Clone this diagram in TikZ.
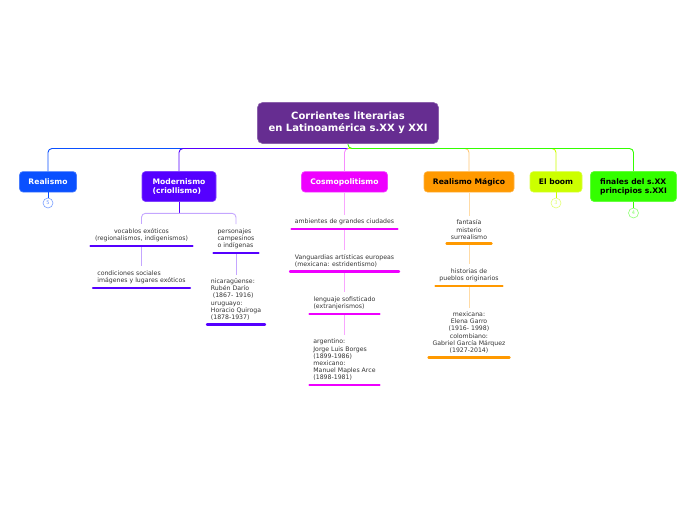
\documentclass[tikz,border=0pt]{standalone}
\usepackage{fontspec}
\setmainfont{DejaVu Sans}
\definecolor{titlecol}{HTML}{662D91}
\definecolor{bluecol}{HTML}{0A50FF}
\definecolor{violetcol}{HTML}{5500FF}
\definecolor{magentacol}{HTML}{EE00FF}
\definecolor{orangecol}{HTML}{FF9900}
\definecolor{limecol}{HTML}{CCFF00}
\definecolor{greencol}{HTML}{33FF00}
\tikzset{
  topic/.style={draw=#1!75!white,fill=#1,rounded corners=3.5pt,line width=0.6pt,inner sep=0pt,
    font=\fontsize{7.6}{9}\selectfont\bfseries},
  twolines/.style={align=left},
  oneline/.style={text height=5.8pt,text depth=0pt},
  leaf/.style={anchor=south,inner xsep=0pt,inner ysep=4pt,text=black!80,
    font=\fontsize{6.2}{7.2}\selectfont},
  badge/.style={circle,draw=#1!55!white,fill=white,text=#1!60!white,line width=0.6pt,
    minimum size=10pt,inner sep=0pt,font=\fontsize{5}{5}\selectfont},
  branch/.style={line width=0.9pt,rounded corners=4pt,#1},
  twig/.style={line width=1pt,#1!35!white},
  under/.style={line width=2.4pt,line cap=round,shorten <=1.2pt,shorten >=1.2pt,#1}
}
\begin{document}
\begin{tikzpicture}[x=1pt,y=-1pt]
  \useasboundingbox (0,0) rectangle (696,520);
  % temas
  \node[topic=titlecol,text=white,align=center,minimum width=181pt,minimum height=41pt,rounded corners=5pt,
    font=\fontsize{10}{12}\selectfont\bfseries] (title) at (348,123) {Corrientes literarias\\en Latinoamérica s.XX y XXI};
  \node[topic=bluecol,text=white,oneline,minimum width=57pt,minimum height=20.5pt] (realismo) at (48,181.8) {Realismo};
  \node[topic=violetcol,text=white,twolines,minimum width=74pt,minimum height=30pt] (modernismo) at (179,186.5) {Modernismo\\(criollismo)};
  \node[topic=magentacol,text=white,oneline,minimum width=86pt,minimum height=20.5pt] (cosmo) at (344.5,181.8) {Cosmopolitismo};
  \node[topic=orangecol,text=black,oneline,minimum width=90pt,minimum height=20.5pt] (magico) at (469,181.8) {Realismo Mágico};
  \node[topic=limecol,text=black,oneline,minimum width=52pt,minimum height=20.5pt] (boom) at (556,181.8) {El boom};
  \node[topic=greencol,text=black,twolines,minimum width=86pt,minimum height=30pt] (finales) at (633.5,186.5) {finales del s.XX\\principios s.XXI};
  \coordinate (bus) at (348,148.5);
  % contadores
  \node[badge=bluecol] (nrealismo) at (48,203) {5};
  \node[badge=limecol] (nboom) at (556,203) {3};
  \node[badge=greencol] (nfinales) at (633.5,213) {4};
  % modernismo
  \node[leaf,minimum width=104pt,align=center] (vocablos) at (141.5,245.7) {vocablos exóticos\\(regionalismos, indigenismos)};
  \node[leaf,minimum width=99pt,align=left] (condiciones) at (141.5,288) {condiciones sociales\\imágenes y lugares exóticos};
  \node[leaf,minimum width=47pt,align=left] (personajes) at (236,253) {personajes\\campesinos\\o indígenas};
  \node[leaf,minimum width=60pt,align=left] (nicaragua) at (236,324.5) {nicaragüense:\\Rubén Darío\\ \ (1867- 1916)\\uruguayo:\\Horacio Quiroga\\(1878-1937)};
  % cosmopolitismo
  \node[leaf,minimum width=108pt,align=center] (ciudades) at (344.5,229) {ambientes de grandes ciudades};
  \node[leaf,minimum width=111pt,align=left] (vanguardias) at (344.5,271.5) {Vanguardias artísticas europeas\\(mexicana: estridentismo)};
  \node[leaf,minimum width=72pt,align=left] (lenguaje) at (344.5,314) {lenguaje sofisticado\\(extranjerismos)};
  \node[leaf,minimum width=72pt,align=left] (argentino) at (344.5,385) {argentino:\\Jorge Luis Borges\\(1899-1986)\\mexicano:\\Manuel Maples Arce\\(1898-1981)};
  % realismo magico
  \node[leaf,minimum width=47pt,align=center] (fantasia) at (469,243.5) {fantasía\\misterio\\surrealismo};
  \node[leaf,minimum width=69pt,align=center] (historias) at (469,286) {historias de\\pueblos originarios};
  \node[leaf,minimum width=83pt,align=center] (mexicana) at (469,357.5) {mexicana:\\Elena Garro\\(1916- 1998)\\colombiano:\\Gabriel García Márquez\\(1927-2014)};
  % ramas
  \draw[branch=bluecol] (bus) -| (realismo.north);
  \draw[branch=violetcol] (bus) -| (modernismo.north);
  \draw[branch=magentacol!45!white] (bus) -| (cosmo.north);
  \draw[branch=orangecol!55!white] (bus) -| (magico.north);
  \draw[branch=limecol] (bus) -| (boom.north);
  \draw[branch=greencol] (title.south) -- (bus) -| (finales.north);
  \draw[line width=0.9pt,bluecol] (realismo) -- (nrealismo);
  \draw[line width=0.9pt,limecol] (boom) -- (nboom);
  \draw[line width=0.9pt,greencol] (finales) -- (nfinales);
  \draw[branch=violetcol] (modernismo.south) -- ++(0,11.5) coordinate (fork);
  \draw[line width=0.9pt,rounded corners=4pt,violetcol!35!white] (vocablos.north) |- (fork) -| (personajes.north);
  % ramitas
  \foreach \a/\b/\c in {vocablos/condiciones/violetcol,personajes/nicaragua/violetcol,
    cosmo/ciudades/magentacol,ciudades/vanguardias/magentacol,vanguardias/lenguaje/magentacol,lenguaje/argentino/magentacol,
    magico/fantasia/orangecol,fantasia/historias/orangecol,historias/mexicana/orangecol}
    \draw[twig=\c] (\a.south) -- (\b.north);
  % subrayados
  \foreach \a/\c in {vocablos/violetcol,condiciones/violetcol,personajes/violetcol,nicaragua/violetcol,
    ciudades/magentacol,vanguardias/magentacol,lenguaje/magentacol,argentino/magentacol,
    fantasia/orangecol,historias/orangecol,mexicana/orangecol}
    \draw[under=\c] (\a.south west) -- (\a.south east);
\end{tikzpicture}
\end{document}
